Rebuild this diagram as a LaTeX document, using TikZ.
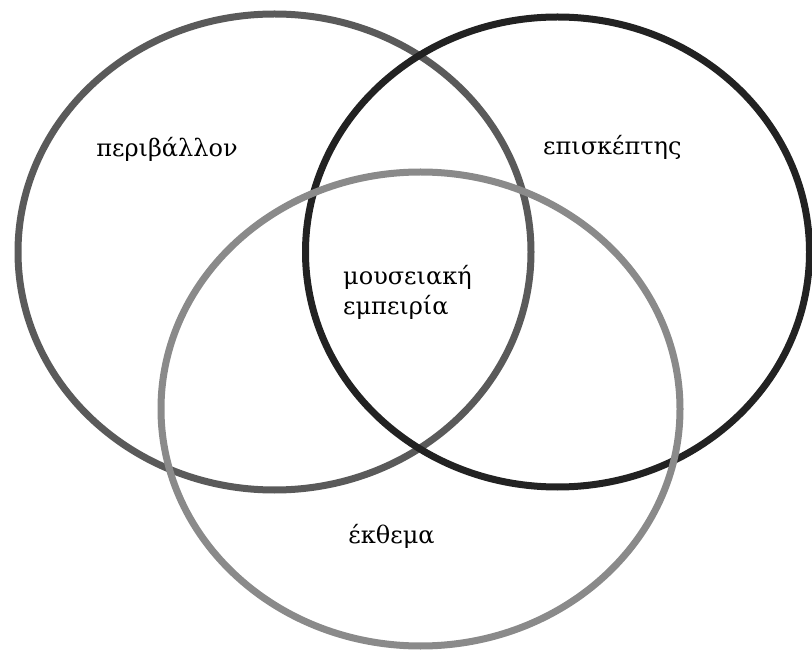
\documentclass[tikz,border=0pt]{standalone}
\usepackage{fontspec}
\setmainfont{DejaVu Serif}
\definecolor{cleft}{HTML}{5A5A5A}
\definecolor{cright}{HTML}{222222}
\definecolor{cbottom}{HTML}{8A8A8A}
\begin{document}
\begin{tikzpicture}[x=1pt,y=-1pt,
  ring/.style={line width=7pt},
  lab/.style={font=\fontsize{24}{30}\selectfont, inner sep=0pt}]
\useasboundingbox (0,0) rectangle (812,652);
\draw[ring, cleft] (274.5,252) ellipse [x radius=256.5, y radius=238];
\draw[ring, cright] (557.5,252) ellipse [x radius=252, y radius=235];
\draw[ring, cbottom] (420.5,409) ellipse [x radius=259.5, y radius=237];
\node[lab, anchor=base] (env) at (167,157) {περιβάλλον};
\node[lab, anchor=base west] (vis) at (543,155) {επισκέπτης};
\node[lab, anchor=base west] (exp1) at (343,285) {μουσειακή};
\node[lab, anchor=base west] (exp2) at (343,315) {εμπειρία};
\node[lab, anchor=base] (exh) at (391.5,543) {έκθεμα};
\end{tikzpicture}
\end{document}
